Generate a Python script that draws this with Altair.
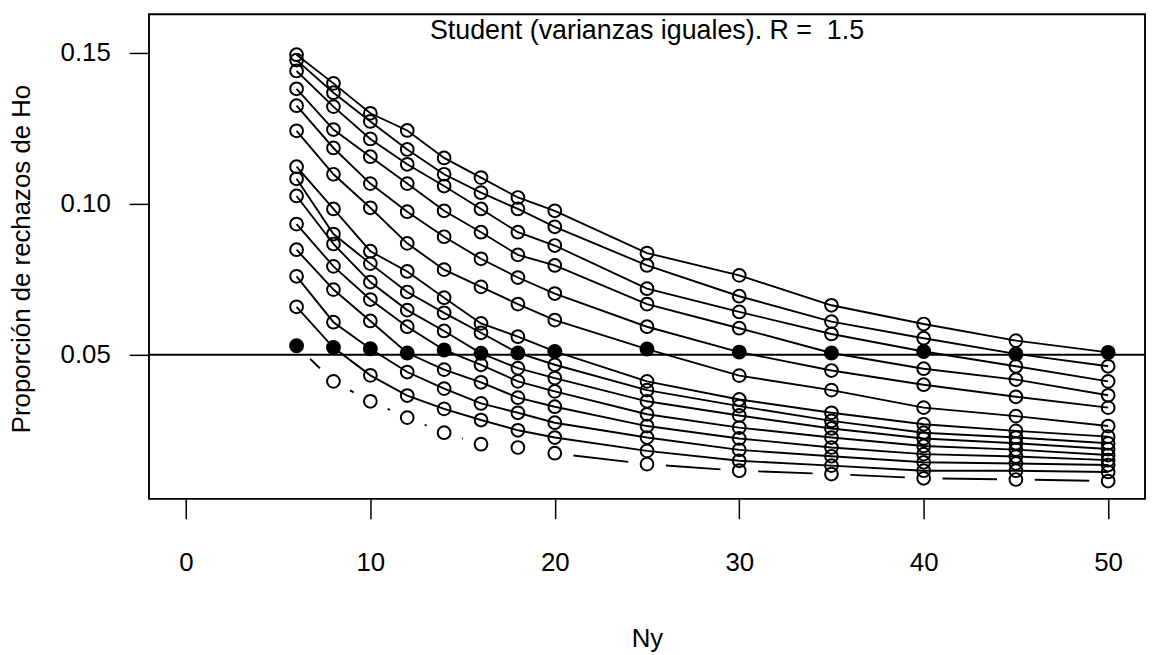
import altair as alt
import pandas as pd
import numpy as np

# Sample sizes of the second group (x axis)
ny_values = [6, 8, 10, 12, 14, 16, 18, 20, 25, 30, 35, 40, 45, 50]

# One series per size of the first group (Nx); values read along Ny
nx_50 = [0.1494, 0.1399, 0.1300, 0.1243, 0.1152, 0.1087, 0.1021, 0.0977, 0.0837, 0.0763, 0.0664, 0.0602, 0.0547, 0.0508]
nx_45 = [0.1476, 0.1368, 0.1273, 0.1180, 0.1098, 0.1037, 0.0983, 0.0924, 0.0796, 0.0694, 0.0610, 0.0555, 0.0503, 0.0462]
nx_40 = [0.1440, 0.1322, 0.1215, 0.1131, 0.1059, 0.0983, 0.0906, 0.0862, 0.0719, 0.0642, 0.0569, 0.0511, 0.0462, 0.0412]
nx_35 = [0.1381, 0.1246, 0.1156, 0.1067, 0.0977, 0.0906, 0.0831, 0.0796, 0.0668, 0.0588, 0.0506, 0.0454, 0.0418, 0.0366]
nx_30 = [0.1325, 0.1185, 0.1067, 0.0974, 0.0891, 0.0818, 0.0756, 0.0703, 0.0593, 0.0509, 0.0448, 0.0401, 0.0361, 0.0325]
nx_25 = [0.1242, 0.1098, 0.0987, 0.0869, 0.0782, 0.0725, 0.0668, 0.0615, 0.0519, 0.0431, 0.0383, 0.0325, 0.0297, 0.0264]
nx_20 = [0.1123, 0.0983, 0.0843, 0.0776, 0.0689, 0.0604, 0.0560, 0.0511, 0.0412, 0.0352, 0.0308, 0.0270, 0.0248, 0.0229]
nx_18 = [0.1083, 0.0900, 0.0802, 0.0708, 0.0639, 0.0573, 0.0506, 0.0467, 0.0383, 0.0330, 0.0281, 0.0242, 0.0226, 0.0207]
nx_16 = [0.1026, 0.0867, 0.0741, 0.0648, 0.0579, 0.0505, 0.0456, 0.0423, 0.0346, 0.0299, 0.0256, 0.0223, 0.0207, 0.0188]
nx_14 = [0.0933, 0.0793, 0.0683, 0.0593, 0.0516, 0.0467, 0.0412, 0.0379, 0.0303, 0.0259, 0.0226, 0.0198, 0.0186, 0.0168]
nx_12 = [0.0848, 0.0716, 0.0612, 0.0506, 0.0451, 0.0409, 0.0358, 0.0328, 0.0264, 0.0223, 0.0193, 0.0171, 0.0163, 0.0151]
nx_10 = [0.0760, 0.0608, 0.0520, 0.0443, 0.0388, 0.0339, 0.0308, 0.0275, 0.0226, 0.0185, 0.0164, 0.0144, 0.0140, 0.0135]
nx_8 = [0.0659, 0.0524, 0.0432, 0.0365, 0.0321, 0.0284, 0.0250, 0.0226, 0.0182, 0.0149, 0.0133, 0.0116, 0.0116, 0.0112]
nx_6 = [0.0530, 0.0412, 0.0346, 0.0292, 0.0242, 0.0204, 0.0193, 0.0174, 0.0138, 0.0116, 0.0105, 0.0091, 0.0087, 0.0082]

nx_sizes = [50, 45, 40, 35, 30, 25, 20, 18, 16, 14, 12, 10, 8, 6]
series = [nx_50, nx_45, nx_40, nx_35, nx_30, nx_25, nx_20, nx_18, nx_16, nx_14, nx_12, nx_10, nx_8, nx_6]

x_ticks = [0, 10, 20, 30, 40, 50]
y_ticks = [0.05, 0.10, 0.15]
alpha_level = [0.05]
title_text = "Student (varianzas iguales). R = \u00a01.5"

rows = []
for nx, vals in zip(nx_sizes, series):
    for ny, p in zip(ny_values, vals):
        rows.append({"Nx": nx, "Ny": ny, "p": p, "igual": nx == ny})
df = pd.DataFrame(rows)

# geometry of the plot area
W, H = 1003, 488
XDOM = [-2, 52]
YDOM = [0.0023, 0.1628]
sx = W / (XDOM[1] - XDOM[0])
sy = H / (YDOM[1] - YDOM[0])
GAP = 19  # type="b" gap around points, in px

# first series (Nx = 6) is drawn with gaps around its points
first = df[df.Nx == 6].sort_values("Ny").reset_index(drop=True)
segs = []
for i in range(len(first) - 1):
    x1, y1 = first.Ny[i], first.p[i]
    x2, y2 = first.Ny[i + 1], first.p[i + 1]
    dxp, dyp = (x2 - x1) * sx, (y2 - y1) * sy
    L = float(np.hypot(dxp, dyp))
    if L > 2 * GAP:
        f = GAP / L
        segs.append({"xa": x1 + (x2 - x1) * f, "ya": y1 + (y2 - y1) * f,
                     "xb": x2 - (x2 - x1) * f, "yb": y2 - (y2 - y1) * f})
seg_df = pd.DataFrame(segs)

FONT = "Liberation Sans"
FS = 26
LW = 1.9

x_enc = alt.X("Ny:Q", scale=alt.Scale(domain=XDOM, nice=False, zero=False),
              axis=alt.Axis(values=x_ticks, title="Ny", domain=False, grid=False,
                            tickSize=20, tickWidth=1.5, tickColor="black",
                            labelFont=FONT, labelFontSize=FS, labelColor="black",
                            labelPadding=31, labelFlush=False,
                            titleFont=FONT, titleFontSize=FS, titleFontWeight="normal",
                            titleColor="black", titleX=501.5, titleY=149,
                            titleBaseline="alphabetic", titleAlign="center"))
y_enc = alt.Y("p:Q", scale=alt.Scale(domain=YDOM, nice=False, zero=False),
              axis=alt.Axis(values=y_ticks, format=".2f", title="Proporción de rechazos de Ho",
                            domain=False, grid=False, tickSize=20, tickWidth=1.5,
                            tickColor="black", labelFont=FONT, labelFontSize=FS,
                            labelColor="black", labelPadding=19, labelFlush=False,
                            titleFont=FONT, titleFontSize=FS, titleFontWeight="normal",
                            titleColor="black", titleAngle=-90, titleX=-120, titleY=246,
                            titleBaseline="alphabetic", titleAlign="center"))

hline = alt.Chart(pd.DataFrame({"h": alpha_level})).mark_rule(
    color="black", strokeWidth=LW).encode(y=alt.Y("h:Q", scale=alt.Scale(domain=YDOM)))

lines = alt.Chart(df[df.Nx != 6]).mark_line(color="black", strokeWidth=LW).encode(
    x=x_enc, y=y_enc, detail="Nx:N", order="Ny:Q")

gapped = alt.Chart(seg_df).mark_rule(color="black", strokeWidth=LW).encode(
    x=alt.X("xa:Q"), y=alt.Y("ya:Q"), x2="xb:Q", y2="yb:Q")

open_pts = alt.Chart(df[~df.igual]).mark_point(
    shape="circle", filled=False, size=165, color="black", strokeWidth=2, opacity=1
).encode(x=x_enc, y=y_enc)

filled_pts = alt.Chart(df[df.igual]).mark_point(
    shape="circle", filled=True, size=225, color="black", opacity=1
).encode(x=x_enc, y=y_enc)

title = alt.Chart(pd.DataFrame({"t": [title_text]})).mark_text(
    font=FONT, fontSize=27, color="black", align="center", baseline="alphabetic"
).encode(text="t:N", x=alt.value(W / 2), y=alt.value(24.5))

chart = alt.layer(hline, lines, gapped, open_pts, filled_pts, title).properties(
    width=W, height=H,
    autosize=alt.AutoSizeParams(type="none"),
    padding={"left": 142, "top": 4, "right": 2, "bottom": 155},
    background="white",
).configure_view(stroke="black", strokeWidth=LW)

chart.save("out.html", embed_options={"renderer": "svg", "actions": False})
